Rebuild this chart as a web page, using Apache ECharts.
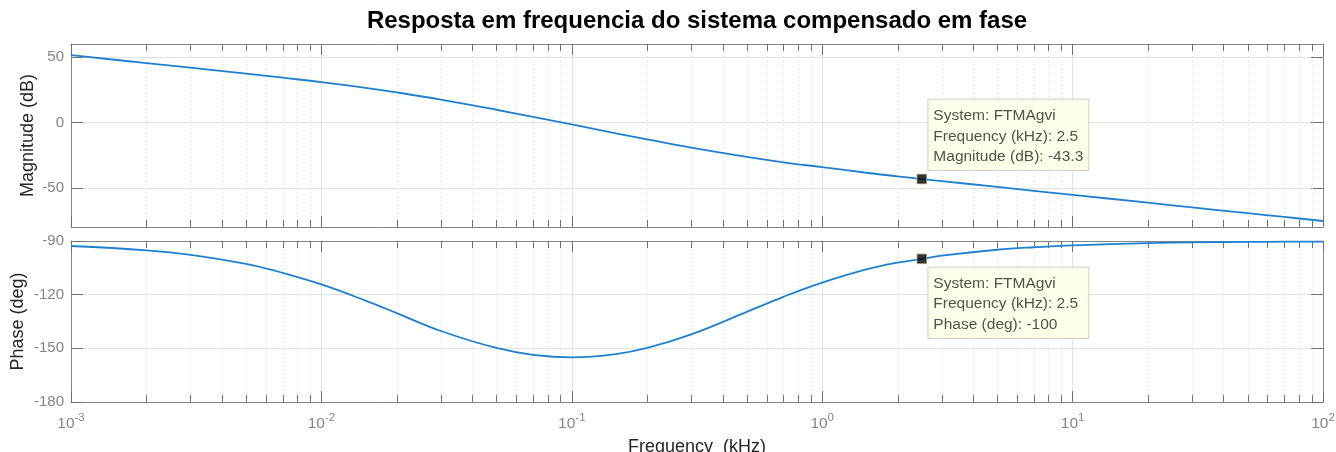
<!DOCTYPE html>
<html>
<head>
<meta charset="utf-8">
<script src="https://cdn.jsdelivr.net/npm/echarts@6/dist/echarts.min.js"></script>
<style>
  html, body { margin: 0; padding: 0; background: #ffffff; }
  #chart { width: 1336px; height: 452px; }
</style>
</head>
<body>
<div id="chart"></div>
<script>
// Bode response of the phase-compensated system (frequency in kHz)
const freqKHz = [0.001, 0.002, 0.003, 0.005, 0.007, 0.01, 0.015, 0.02, 0.03, 0.05, 0.07,
                 0.1, 0.15, 0.2, 0.3, 0.5, 0.7, 1, 1.5, 2, 2.5, 3, 5, 7, 10, 20, 30, 50, 70, 100];
const magnitudeDb = [51.5, 45.4, 41.9, 37.3, 34.2, 30.9, 26.5, 23.0, 17.5, 9.7, 4.2,
                     -1.5, -8.4, -13.0, -19.3, -26.4, -30.5, -34.2, -38.5, -41.2, -43.3, -44.9,
                     -49.3, -52.3, -55.4, -61.4, -65.0, -69.4, -72.3, -75.4];
const phaseDeg = [-92.8, -95.2, -97.7, -102.8, -107.8, -114.3, -123.3, -130.3, -140.3, -149.8, -153.6,
                  -155.0, -153.2, -149.8, -142.2, -129.6, -121.2, -113.3, -105.9, -102.1, -100.0, -98.2,
                  -94.9, -93.5, -92.4, -91.2, -90.8, -90.5, -90.4, -90.3];

// Data tip at 2.5 kHz
const tipFreq = 2.5;
const tipMag = -43.3;
const tipPhase = -100;
const systemName = 'FTMAgvi';

// Axis ticks
const magTicks = [50, 0, -50];
const phaseTicks = [-90, -120, -150, -180];
const decadeExponents = ['-3', '-2', '-1', '0', '1', '2'];
const decadeStarts = [0.001, 0.01, 0.1, 1, 10];
const minorSteps = [2, 3, 4, 5, 6, 7, 8, 9];

const minorFreqs = [];
decadeStarts.forEach(d => minorSteps.forEach(m => minorFreqs.push(+(d * m).toPrecision(3))));

const FONT = '"Liberation Sans", Arial, Helvetica, sans-serif';
const AXIS_GRAY = '#858585';
const TICK_GRAY = '#707070';
const LABEL_GRAY = '#858585';
const TEXT_DARK = '#262626';
const LINE_BLUE = '#1f80cf';

const chart = echarts.init(document.getElementById('chart'), null, { renderer: 'canvas' });

function xAxisDef(gridIndex, position, withLabels) {
  return {
    type: 'log',
    logBase: 10,
    gridIndex: gridIndex,
    position: position,
    min: 0.001,
    max: 100,
    splitNumber: 5,
    axisLine: { show: true, onZero: false, lineStyle: { color: AXIS_GRAY, width: 1 } },
    axisTick: { show: true, inside: true, length: 11, lineStyle: { color: TICK_GRAY } },
    splitLine: { show: position === 'bottom', lineStyle: { color: '#e2e2e2', width: 1 } },
    axisLabel: {
      show: withLabels,
      margin: 14,
      fontFamily: FONT,
      formatter: function (v) {
        const i = Math.round(Math.log10(v)) + 3;
        return '{b|10}{s|' + decadeExponents[i] + '}';
      },
      rich: {
        b: { fontSize: 15.5, color: LABEL_GRAY, fontFamily: FONT, lineHeight: 16, verticalAlign: 'bottom' },
        s: { fontSize: 11.5, color: LABEL_GRAY, fontFamily: FONT, lineHeight: 16, verticalAlign: 'bottom', padding: [0, 0, 8, 0] }
      }
    }
  };
}

function yAxisDef(gridIndex, position, min, max, ticks, name, gap) {
  return {
    type: 'value',
    gridIndex: gridIndex,
    position: position,
    min: min,
    max: max,
    name: position === 'left' ? name : '',
    nameLocation: 'middle',
    nameGap: gap || 30,
    nameMoveOverlap: false,
    nameRotate: 90,
    nameTextStyle: { fontSize: 18, color: TEXT_DARK, fontFamily: FONT },
    axisLine: { show: true, onZero: false, lineStyle: { color: AXIS_GRAY, width: 1 } },
    axisTick: { show: true, inside: true, length: 12, customValues: ticks, lineStyle: { color: TICK_GRAY } },
    splitLine: { show: position === 'left', lineStyle: { color: '#e2e2e2', width: 1 } },
    axisLabel: {
      show: position === 'left',
      customValues: ticks,
      margin: 7,
      fontSize: 15,
      color: LABEL_GRAY,
      fontFamily: FONT
    }
  };
}

// Minor log grid (dotted) plus short inward ticks on top and bottom edges
function minorGridRender(params, api) {
  const cs = params.coordSys;
  const x = Math.round(api.coord([api.value(0), 0])[0]) + 0.5;
  const top = cs.y, bottom = cs.y + cs.height;
  return {
    type: 'group',
    children: [
      { type: 'line', shape: { x1: x, y1: top, x2: x, y2: bottom },
        style: { stroke: '#d9d9d9', lineWidth: 1, lineDash: [1, 3] } },
      { type: 'line', shape: { x1: x, y1: bottom, x2: x, y2: bottom - 7 },
        style: { stroke: TICK_GRAY, lineWidth: 1 } },
      { type: 'line', shape: { x1: x, y1: top, x2: x, y2: top + 7 },
        style: { stroke: TICK_GRAY, lineWidth: 1 } }
    ]
  };
}

function tipLabel(lines, offset) {
  return {
    show: true,
    position: offset,
    formatter: lines.join('\n'),
    fontFamily: FONT,
    fontSize: 15.5,
    lineHeight: 20.5,
    width: 150,
    color: TEXT_DARK,
    backgroundColor: '#ffffe6',
    borderColor: '#c9c9c0',
    borderWidth: 1,
    padding: [6, 5, 3, 5]
  };
}

const option = {
  animation: false,
  backgroundColor: '#ffffff',
  graphic: [{
    type: 'text',
    x: 697,
    y: 21,
    style: {
      text: 'Resposta em frequencia do sistema compensado em fase',
      fill: '#000000',
      font: 'bold 24px ' + FONT,
      textAlign: 'center',
      textVerticalAlign: 'middle'
    }
  }],
  grid: [
    { left: 71, top: 44, width: 1252, height: 183, outerBoundsMode: 'none', containLabel: false },
    { left: 71, top: 241, width: 1252, height: 161, outerBoundsMode: 'none', containLabel: false }
  ],
  xAxis: [
    xAxisDef(0, 'bottom', false),
    xAxisDef(0, 'top', false),
    Object.assign(xAxisDef(1, 'bottom', true), {
      name: 'Frequency  (kHz)',
      nameLocation: 'middle',
      nameGap: 36,
      nameMoveOverlap: false,
      nameTextStyle: { fontSize: 18, color: TEXT_DARK, fontFamily: FONT }
    }),
    xAxisDef(1, 'top', false)
  ],
  yAxis: [
    yAxisDef(0, 'left', -80, 60, magTicks, 'Magnitude (dB)', 34),
    yAxisDef(0, 'right', -80, 60, magTicks, ''),
    yAxisDef(1, 'left', -180, -90, phaseTicks, 'Phase (deg)', 44),
    yAxisDef(1, 'right', -180, -90, phaseTicks, '')
  ],
  series: [
    {
      type: 'custom', xAxisIndex: 0, yAxisIndex: 0, silent: true, z: 1,
      renderItem: minorGridRender, data: minorFreqs.map(f => [f])
    },
    {
      type: 'custom', xAxisIndex: 2, yAxisIndex: 2, silent: true, z: 1,
      renderItem: minorGridRender, data: minorFreqs.map(f => [f])
    },
    {
      name: 'Magnitude', type: 'line', xAxisIndex: 0, yAxisIndex: 0, z: 3,
      showSymbol: false, smooth: 0.4,
      lineStyle: { color: LINE_BLUE, width: 1.8 },
      data: freqKHz.map((f, i) => [f, magnitudeDb[i]])
    },
    {
      name: 'Phase', type: 'line', xAxisIndex: 2, yAxisIndex: 2, z: 3,
      showSymbol: false, smooth: 0.4,
      lineStyle: { color: LINE_BLUE, width: 1.8 },
      data: freqKHz.map((f, i) => [f, phaseDeg[i]])
    },
    {
      type: 'scatter', xAxisIndex: 0, yAxisIndex: 0, z: 5, silent: true,
      symbol: 'rect', symbolSize: 10,
      itemStyle: { color: '#000000', borderColor: '#d8d2a0', borderWidth: 1 },
      label: tipLabel([
        'System: ' + systemName,
        'Frequency (kHz): ' + tipFreq,
        'Magnitude (dB): ' + tipMag
      ], [12, -74]),
      data: [[tipFreq, tipMag]]
    },
    {
      type: 'scatter', xAxisIndex: 2, yAxisIndex: 2, z: 5, silent: true,
      symbol: 'rect', symbolSize: 10,
      itemStyle: { color: '#000000', borderColor: '#d8d2a0', borderWidth: 1 },
      label: tipLabel([
        'System: ' + systemName,
        'Frequency (kHz): ' + tipFreq,
        'Phase (deg): ' + tipPhase
      ], [12, 14]),
      data: [[tipFreq, tipPhase]]
    }
  ]
};

chart.setOption(option);
</script>
</body>
</html>
